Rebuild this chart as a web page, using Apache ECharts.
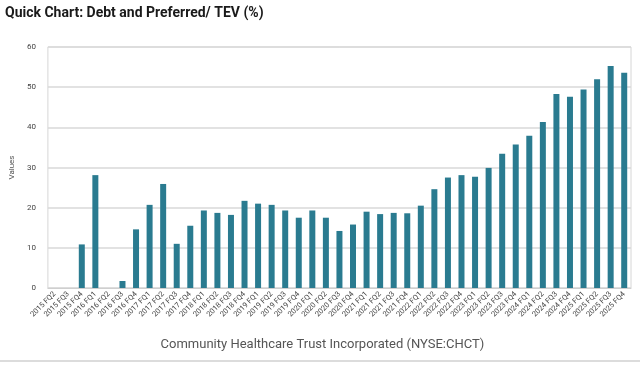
<!DOCTYPE html>
<html>
<head>
<meta charset="utf-8">
<script src="https://cdn.jsdelivr.net/npm/echarts@6/dist/echarts.min.js"></script>
<style>html,body{margin:0;padding:0;background:#fff}#c{width:640px;height:365px}</style>
</head>
<body>
<div id="c"></div>
<script>
const titleText = 'Quick Chart: Debt and Preferred/ TEV (%)';
const xAxisTitle = 'Community Healthcare Trust Incorporated (NYSE:CHCT)';
const yAxisTitle = 'Values';
const categories = [
  '2015 FQ2','2015 FQ3','2015 FQ4',
  '2016 FQ1','2016 FQ2','2016 FQ3','2016 FQ4',
  '2017 FQ1','2017 FQ2','2017 FQ3','2017 FQ4',
  '2018 FQ1','2018 FQ2','2018 FQ3','2018 FQ4',
  '2019 FQ1','2019 FQ2','2019 FQ3','2019 FQ4',
  '2020 FQ1','2020 FQ2','2020 FQ3','2020 FQ4',
  '2021 FQ1','2021 FQ2','2021 FQ3','2021 FQ4',
  '2022 FQ1','2022 FQ2','2022 FQ3','2022 FQ4',
  '2023 FQ1','2023 FQ2','2023 FQ3','2023 FQ4',
  '2024 FQ1','2024 FQ2','2024 FQ3','2024 FQ4',
  '2025 FQ1','2025 FQ2','2025 FQ3','2025 FQ4'
];
const values = [
  null, null, 10.85,
  28.1, null, 1.75, 14.6,
  20.7, 25.9, 11.0, 15.5,
  19.3, 18.7, 18.2, 21.7,
  21.0, 20.7, 19.3, 17.5,
  19.3, 17.5, 14.2, 15.8,
  19.0, 18.4, 18.7, 18.6,
  20.5, 24.6, 27.5, 28.1,
  27.7, 29.9, 33.4, 35.7,
  37.9, 41.3, 48.3, 47.6,
  49.4, 52.0, 55.3, 53.6
];
const yMin = 0, yMax = 60, yInterval = 10;

const chart = echarts.init(document.getElementById('c'), null, {renderer: 'canvas'});
chart.setOption({
  animation: false,
  backgroundColor: '#fff',
  title: {
    text: titleText,
    left: 0, top: 1,
    textStyle: {fontFamily: 'Roboto', fontWeight: 'bold', fontSize: 14, color: '#1a1a1a'}
  },
  grid: {
    left: 42, right: 9, top: 47, bottom: 77,
    show: true, borderColor: '#d6d6d6', borderWidth: 1, backgroundColor: 'transparent'
  },
  xAxis: {
    type: 'category',
    data: categories,
    name: xAxisTitle,
    nameLocation: 'middle',
    nameGap: 50,
    nameTextStyle: {fontFamily: 'Roboto', fontSize: 13, color: '#555', padding: [0, 34, 0, 0]},
    axisLine: {show: true, lineStyle: {color: '#cfcfcf'}},
    axisTick: {show: false},
    axisLabel: {interval: 0, rotate: 45, fontSize: 7.5, color: '#444', margin: 5, fontFamily: 'Roboto'}
  },
  yAxis: {
    type: 'value',
    min: yMin, max: yMax, interval: yInterval,
    name: yAxisTitle,
    nameLocation: 'middle',
    nameRotate: 90,
    nameGap: 29,
    nameTextStyle: {fontFamily: 'Roboto', fontSize: 8, color: '#555'},
    axisLine: {show: false},
    axisTick: {show: false},
    axisLabel: {fontSize: 8, color: '#444', margin: 12, fontFamily: 'Roboto'},
    splitLine: {show: true, lineStyle: {color: '#d9d9d9', width: 1.5}}
  },
  series: [{
    type: 'bar',
    data: values,
    barWidth: 6,
    itemStyle: {color: '#2a7b90'}
  }],
  graphic: [{
    type: 'rect',
    shape: {x: 0, y: 360, width: 640, height: 2},
    style: {fill: '#dcdcdc'}
  }]
});
</script>
</body>
</html>
